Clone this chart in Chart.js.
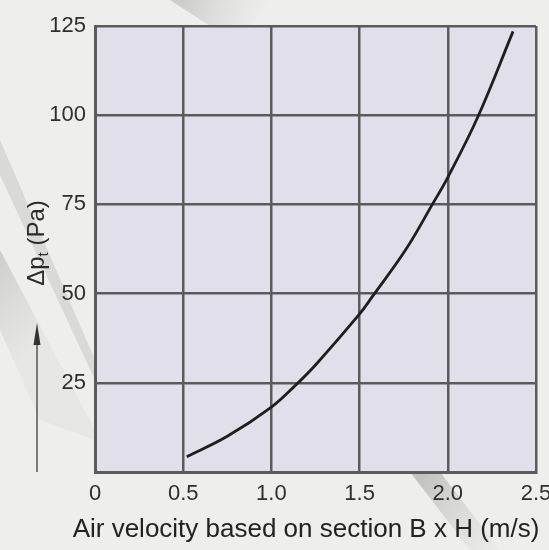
<!DOCTYPE html>
<html>
<head>
<meta charset="utf-8">
<script src="https://cdn.jsdelivr.net/npm/chart.js@4.4.0/dist/chart.umd.min.js"></script>
<style>
  html, body { margin: 0; padding: 0; background: #eeeeec; }
  #wrap { width: 549px; height: 550px; }
</style>
</head>
<body>
<div id="wrap"><canvas id="myChart"></canvas></div>
<script>
// values
const velocity = [0.52, 0.75, 1.0, 1.13, 1.25, 1.5, 1.57, 1.76, 1.91, 2.0, 2.17, 2.37]
const pressure = [4.3, 10, 18.2, 24, 30, 44.3, 49, 62.2, 74.8, 82.6, 99.5, 123.5]
const xTicks = [0, 0.5, 1.0, 1.5, 2.0, 2.5]
const yTicks = [0, 25, 50, 75, 100, 125]
const xTitle = 'Air velocity based on section B x H (m/s)'

const points = []
for (let i = 0; i < velocity.length; i++) {
  points.push({x: velocity[i], y: pressure[i]})
}

const gridColor = '#5b5a5c'
const font = '"Liberation Sans", Arial, sans-serif'

// background streaks + plot fill
const backdrop = {
  id: 'backdrop',
  beforeDraw(chart) {
    const c = chart.ctx
    const a = chart.chartArea
    c.save()
    c.fillStyle = '#eeeeec'
    c.fillRect(0, 0, chart.width, chart.height)
    // diagonal grey shapes
    let g = c.createLinearGradient(0, 200, 90, 300)
    g.addColorStop(0, 'rgba(150,150,150,0.55)')
    g.addColorStop(1, 'rgba(200,200,200,0.2)')
    c.fillStyle = g
    c.beginPath()
    c.moveTo(0, 250); c.lineTo(95, 430); c.lineTo(95, 440); c.lineTo(40, 420); c.lineTo(0, 330)
    c.closePath(); c.fill()
    c.fillStyle = 'rgba(190,190,190,0.45)'
    c.beginPath()
    c.moveTo(0, 140); c.lineTo(95, 360); c.lineTo(95, 380); c.lineTo(0, 175)
    c.closePath(); c.fill()
    g = c.createLinearGradient(180, 0, 260, 30)
    g.addColorStop(0, 'rgba(170,170,170,0.5)')
    g.addColorStop(1, 'rgba(235,235,235,0.3)')
    c.fillStyle = g
    c.beginPath()
    c.moveTo(170, 0); c.lineTo(270, 0); c.lineTo(250, 26); c.lineTo(210, 26)
    c.closePath(); c.fill()
    g = c.createLinearGradient(420, 480, 500, 550)
    g.addColorStop(0, 'rgba(150,150,150,0.5)')
    g.addColorStop(1, 'rgba(220,220,220,0.2)')
    c.fillStyle = g
    c.beginPath()
    c.moveTo(410, 472); c.lineTo(440, 472); c.lineTo(500, 550); c.lineTo(470, 550)
    c.closePath(); c.fill()
    c.fillStyle = '#e1e0ea'
    c.fillRect(a.left, a.top, a.right - a.left, a.bottom - a.top)
    c.restore()
  },
  afterDraw(chart) {
    const c = chart.ctx
    c.save()
    // x title
    c.fillStyle = '#222'
    c.textAlign = 'center'
    c.textBaseline = 'middle'
    c.font = '26px ' + font
    c.fillText(xTitle, 306, 530)
    c.restore()
    c.save()
    // y title with subscript
    c.translate(37, 243)
    c.rotate(-Math.PI / 2)
    c.fillStyle = '#2a2a2a'
    c.textBaseline = 'middle'
    c.font = '24px ' + font
    const w1 = c.measureText('Δp').width
    c.font = '15px ' + font
    const w2 = c.measureText('t').width
    c.font = '24px ' + font
    const w3 = c.measureText(' (Pa)').width
    let x = -(w1 + w2 + w3) / 2
    c.fillText('Δp', x, 0)
    x += w1
    c.font = '15px ' + font
    c.fillText('t', x, 7)
    x += w2
    c.font = '24px ' + font
    c.fillText(' (Pa)', x, 0)
    c.restore()
    // arrow
    c.save()
    c.strokeStyle = '#555'
    c.fillStyle = '#333'
    c.lineWidth = 1.5
    c.beginPath(); c.moveTo(37, 472); c.lineTo(37, 340); c.stroke()
    c.beginPath(); c.moveTo(37, 323); c.lineTo(40.5, 345); c.lineTo(33.5, 345); c.closePath(); c.fill()
    c.restore()
  }
}

const ctx = document.getElementById('myChart')
new Chart(ctx, {
  type: 'scatter',
  data: {
    datasets: [{
      data: points,
      showLine: true,
      borderColor: '#1e1e1e',
      borderWidth: 2.8,
      pointRadius: 0,
      tension: 0.4
    }]
  },
  options: {
    responsive: true,
    maintainAspectRatio: false,
    animation: false,
    layout: { padding: { top: 26, right: 13, left: 0, bottom: 0 } },
    plugins: { legend: { display: false }, tooltip: { enabled: false } },
    scales: {
      x: {
        type: 'linear', min: 0, max: 2.5,
        afterBuildTicks: (s) => { s.ticks = xTicks.map(v => ({value: v})) },
        afterFit: (s) => { s.height = 78; s.paddingRight = 0; s.paddingLeft = 0 },
        grid: { color: gridColor, lineWidth: 2.5, drawTicks: false },
        border: { color: gridColor, width: 3 },
        ticks: {
          padding: 9,
          maxRotation: 0,
          color: '#2e2e2e',
          font: { family: font, size: 22 },
          callback: (v) => v === 0 ? '0' : v.toFixed(1)
        }
      },
      y: {
        type: 'linear', min: 0, max: 125,
        afterBuildTicks: (s) => { s.ticks = yTicks.map(v => ({value: v})) },
        afterFit: (s) => { s.width = 95; s.paddingTop = 0; s.paddingBottom = 0 },
        grid: { color: gridColor, lineWidth: 2.5, drawTicks: false },
        border: { color: gridColor, width: 3 },
        ticks: {
          padding: 9,
          color: '#2e2e2e',
          font: { family: font, size: 22 },
          callback: (v) => v === 0 ? '' : v
        }
      }
    }
  },
  plugins: [backdrop]
})
</script>
</body>
</html>
